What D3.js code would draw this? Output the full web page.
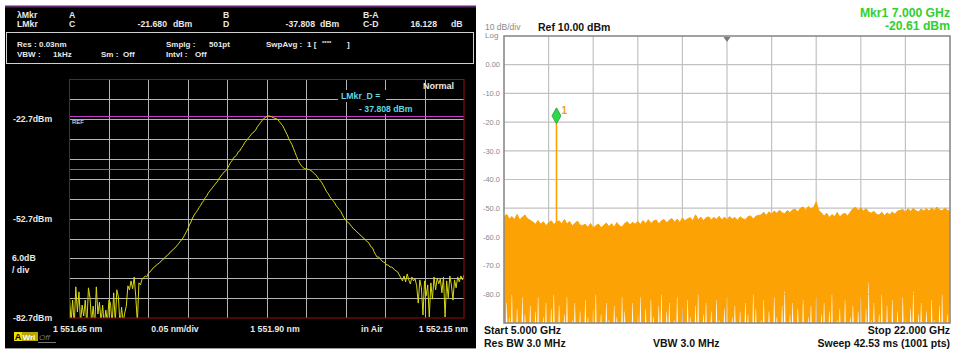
<!DOCTYPE html>
<html><head><meta charset="utf-8">
<script src="https://cdn.jsdelivr.net/npm/d3@7"></script>
<style>
body{margin:0;background:#fff}
svg{display:block}
text{font-family:"Liberation Sans",Arial,sans-serif}
</style></head>
<body><svg id="c" width="957" height="351"></svg>
<script>
// ---------- Left: optical spectrum analyzer ----------
const osaStartNm = 1551.65, osaStopNm = 1552.15, osaStepNm = 0.002;
const osaRefDbm = -10.7, osaBottomDbm = -82.7, osaDbPerDiv = 6;
const osaPower = [
-76.6,-84,-77.3,-85,-73.3,-80.9,-74.8,-84,-78.8,-82.1,
-77.3,-85,-73.6,-76.6,-84,-79.1,-85,-73.3,-81.5,-77.9,
-84,-78.8,-85,-80.3,-84,-77.3,-78.2,-85,-75.1,-84,
-74.2,-76.3,-85,-79.4,-84,-81.2,-79.1,-73.0,-74.2,-71.5,
-73.9,-70.3,-76.3,-84,-72.1,-72.7,-70.9,-70.6,-70.0,-70.3,
-69.1,-68.8,-68.2,-67.6,-67.3,-66.7,-66.4,-66.1,-65.5,-65.2,
-64.6,-64.3,-63.7,-63.4,-62.7,-62.4,-61.8,-61.5,-60.9,-60.3,
-59.7,-59.1,-58.5,-57.6,-56.7,-55.8,-54.6,-53.7,-52.5,-51.6,
-50.9,-50.3,-49.4,-48.8,-47.9,-47.3,-46.4,-45.8,-44.9,-44.3,
-43.7,-43.1,-42.5,-41.9,-41.3,-40.4,-39.8,-39.2,-38.6,-38.3,
-37.6,-36.7,-35.8,-35.2,-34.3,-34.0,-33.4,-32.5,-32.2,-31.3,
-30.7,-29.8,-29.2,-28.6,-28.0,-27.4,-26.8,-26.5,-25.9,-25.0,
-24.4,-23.7,-23.1,-22.5,-22.2,-21.9,-21.68,-21.8,-21.9,-22.2,
-22.4,-22.5,-22.8,-23.4,-24.0,-24.6,-25.5,-26.5,-27.4,-28.6,
-29.5,-30.4,-31.6,-32.8,-34.0,-35.2,-36.1,-36.7,-37.3,-37.6,
-37.7,-37.8,-37.9,-38.2,-38.5,-39.1,-39.4,-40.1,-40.7,-41.3,
-41.9,-42.8,-43.7,-44.6,-45.2,-46.1,-46.7,-47.3,-47.9,-48.8,
-49.4,-50.0,-50.6,-51.6,-52.5,-53.1,-53.7,-54.0,-54.6,-55.2,
-55.8,-56.1,-56.7,-57.0,-57.6,-57.9,-58.5,-58.8,-59.4,-59.7,
-60.3,-61.2,-61.5,-62.7,-63.6,-64.3,-64.3,-64.9,-65.5,-65.8,
-66.1,-66.7,-66.7,-67.3,-67.3,-67.6,-68.2,-68.5,-68.8,-69.7,
-70.6,-71.5,-70.0,-71.8,-69.4,-71.2,-72.4,-70.3,-71.5,-70.9,
-73.0,-78.2,-71.2,-73.6,-81.8,-71.5,-76.0,-72.7,-82.4,-72.1,
-77.0,-70.3,-74.2,-70.6,-72.4,-70.9,-75.1,-70.3,-82.4,-71.5,
-76.6,-70.0,-72.7,-77.3,-71.2,-73.6,-70.3,-71.8,-70.0,-71.2,
-69.7
];
const osaMarkerLevels = [-21.680, -37.808];
const osaYTickValues = [-22.7, -52.7, -82.7];
const osaYTickLabels = ["-22.7dBm", "-52.7dBm", "-82.7dBm"];
const osaXLabels = ["1 551.65 nm", "0.05 nm/div", "1 551.90 nm", "in Air", "1 552.15 nm"];

// ---------- Right: electrical spectrum analyzer ----------
const saStartGHz = 5, saStopGHz = 22, saBinGHz = 0.1;
const saRefDbm = 10, saBottomDbm = -90;
const saUpper = [
-53.2,-52.1,-53.8,-52.9,-53.9,-52.2,-54.1,-53.1,-52.4,-53.7,-54.2,
-54.8,-55.6,-54.3,-55.6,-54.7,-56.1,-55.1,-54.4,-55.7,-54.9,
-54.4,-55.5,-53.9,-55.5,-54.6,-56.2,-55.3,-54.5,-55.9,-56.0,
-55.6,-56.7,-55.3,-56.9,-56.1,-55.5,-56.8,-56.0,-55.2,-56.4,
-55.4,-56.6,-55.0,-56.1,-56.6,-55.3,-54.7,-55.9,-54.9,-55.6,
-54.6,-55.7,-54.3,-55.4,-54.0,-55.3,-54.5,-54.1,-55.5,-54.4,
-53.9,-55.1,-54.2,-53.6,-54.9,-53.8,-55.0,-53.4,-54.4,-53.7,
-53.3,-54.4,-52.3,-54.0,-53.1,-54.3,-53.4,-53.0,-54.1,-53.2,
-53.9,-52.8,-54.1,-53.1,-54.0,-52.9,-53.8,-53.2,-54.2,-53.0,
-53.7,-54.0,-52.9,-52.7,-53.8,-52.8,-52.5,-52.4,-51.4,-52.5,
-51.3,-52.1,-51.0,-51.8,-50.7,-51.6,-51.9,-50.8,-51.5,-50.6,
-50.4,-51.3,-50.0,-49.6,-50.7,-49.4,-50.3,-49.7,-47.8,-50.9,
-51.6,-52.8,-51.7,-53.2,-52.2,-53.0,-51.5,-53.1,-52.1,-51.8,
-52.7,-51.4,-50.2,-49.7,-50.8,-49.9,-51.0,-50.1,-51.4,-51.7,
-51.1,-52.1,-52.4,-51.4,-52.6,-51.6,-52.3,-51.3,-52.1,-51.0,
-50.8,-50.4,-51.5,-50.2,-51.1,-50.0,-50.9,-51.3,-50.3,-51.0,
-50.1,-51.1,-49.9,-50.8,-49.6,-50.6,-50.9,-50.0,-50.7,-51.1
];
const saLower = [
-92,-83,-88,-80,-92,-85,-92,-81,-87,-92,-84,
-92,-86,-81,-92,-88,-83,-92,-85,-80,-92,
-84,-92,-87,-81,-92,-89,-83,-92,-86,-92,
-82,-88,-92,-85,-80,-92,-87,-92,-83,-89,
-92,-84,-88,-92,-81,-86,-92,-90,-83,-92,
-87,-81,-92,-85,-92,-82,-88,-92,-84,-80,
-92,-86,-83,-92,-89,-81,-92,-85,-92,-82,
-88,-92,-84,-80,-92,-87,-83,-92,-86,-92,
-82,-89,-92,-85,-81,-92,-88,-84,-92,-86,
-92,-83,-87,-92,-80,-85,-92,-89,-82,-92,
-86,-92,-81,-88,-92,-84,-79,-92,-87,-83,
-92,-85,-90,-82,-92,-88,-84,-92,-81,-92,
-87,-83,-92,-86,-80,-92,-89,-85,-92,-82,
-92,-88,-84,-92,-86,-81,-92,-85,-76,-89,
-83,-92,-87,-80,-92,-84,-90,-82,-92,-86,
-92,-81,-88,-92,-85,-79,-92,-87,-83,-92,
-86,-92,-82,-89,-92,-84,-80,-92,-87,-83
];
const saMarkerFreqGHz = [7.0];
const saMarkerPowerDbm = [-20.61];
const saYTickValues = [0, -10, -20, -30, -40, -50, -60, -70, -80];
const saYTickLabels = ["0.00", "-10.0", "-20.0", "-30.0", "-40.0", "-50.0", "-60.0", "-70.0", "-80.0"];

const svg = d3.select("#c");
const defs = svg.append("defs");

// ================= LEFT PANEL =================
const L = svg.append("g");
L.append("rect").attr("x",5).attr("y",6).attr("width",471).attr("height",342).attr("fill","#000");
L.append("line").attr("x1",5).attr("x2",476).attr("y1",6.5).attr("y2",6.5).attr("stroke","#5e2a6c").attr("stroke-width",2);
L.append("line").attr("x1",5).attr("x2",476).attr("y1",348.5).attr("y2",348.5).attr("stroke","#9a9a9a").attr("stroke-width",1);
L.append("rect").attr("x",6.5).attr("y",32.5).attr("width",467).attr("height",31).attr("fill","none").attr("stroke","#cfcfcf");

function lt(x,y,s,opt={}){
  return L.append("text").attr("x",x).attr("y",y).text(s)
    .attr("font-size",opt.size||8.7).attr("font-weight",opt.weight||"bold")
    .attr("fill",opt.fill||"#e8e8e8").attr("text-anchor",opt.anchor||"start");
}
lt(17,18,"λMkr"); lt(69,18,"A"); lt(223,18,"B"); lt(363,18,"B-A");
lt(17,26.5,"LMkr"); lt(69,26.5,"C"); lt(167,26.5,"-21.680",{anchor:"end"}); lt(173,26.5,"dBm");
lt(223,26.5,"D"); lt(315,26.5,"-37.808",{anchor:"end"}); lt(320,26.5,"dBm");
lt(363,26.5,"C-D"); lt(437,26.5,"16.128",{anchor:"end"}); lt(451,26.5,"dB");
const hs = {size:8};
lt(17,46.5,"Res :",hs); lt(39,46.5,"0.03nm",hs); lt(166,46.5,"Smplg :",hs); lt(209,46.5,"501pt",hs);
lt(266,46.5,"SwpAvg :",hs); lt(307,46.5,"1  [",hs); lt(322,45,"****",{size:6}); lt(347,46.5,"]",hs);
lt(17,56.5,"VBW :",hs); lt(53,56.5,"1kHz",hs); lt(101,56.5,"Sm :",hs); lt(123,56.5,"Off",hs);
lt(166,56.5,"Intvl :",hs); lt(195,56.5,"Off",hs);

const xL = d3.scaleLinear().domain([osaStartNm, osaStopNm]).range([69.5, 464]);
const yL = d3.scaleLinear().domain([osaBottomDbm, osaRefDbm]).range([318, 79.5]);

const gridL = L.append("g").attr("stroke","#b4b4b4").attr("stroke-width",1);
d3.range(1,10).forEach(k=>{
  const x = Math.round(xL(osaStartNm + k*0.05))+0.5;
  gridL.append("line").attr("x1",x).attr("x2",x).attr("y1",yL(osaRefDbm)).attr("y2",yL(osaBottomDbm));
});
d3.range(1,12).forEach(k=>{
  const y = Math.round(yL(osaBottomDbm + k*osaDbPerDiv))+0.5;
  gridL.append("line").attr("x1",xL(osaStartNm)).attr("x2",xL(osaStopNm)).attr("y1",y).attr("y2",y);
});
osaMarkerLevels.forEach(v=>{
  const y = Math.round(yL(v))+0.5;
  L.append("line").attr("x1",xL(osaStartNm)).attr("x2",xL(osaStopNm)).attr("y1",y).attr("y2",y)
    .attr("stroke","#c43cc8").attr("stroke-width",1);
});
lt(72,124,"REF",{size:6,weight:"normal",fill:"#f0f0f0"});

L.append("rect").attr("x",338).attr("y",90).attr("width",48).attr("height",12).attr("fill","#000");
L.append("rect").attr("x",356).attr("y",102).attr("width",62).attr("height",12).attr("fill","#000");
lt(341,99,"LMkr_D =",{fill:"#5fd8e0"});
lt(359,112,"- "+Math.abs(osaMarkerLevels[1]).toFixed(3)+" dBm",{fill:"#5fd8e0"});
lt(454,89,"Normal",{anchor:"end",size:9});

defs.append("clipPath").attr("id","clipL").append("rect")
  .attr("x",69.5).attr("y",79.5).attr("width",394.5).attr("height",238.5);
const lineL = d3.line().x((d,i)=>xL(osaStartNm + i*osaStepNm)).y(d=>yL(d));
L.append("path").datum(osaPower).attr("d",lineL).attr("fill","none")
  .attr("stroke","#d8d812").attr("stroke-width",1).attr("clip-path","url(#clipL)");

L.append("rect").attr("x",69.5).attr("y",79.5).attr("width",394.5).attr("height",238.5)
  .attr("fill","none").attr("stroke","#a00c0c").attr("stroke-width",1);

osaYTickValues.forEach((v,i)=>{ lt(13, yL(v)+3, osaYTickLabels[i]); });
lt(12,261,"6.0dB"); lt(12,273,"/ div");
lt(53,332,osaXLabels[0]); lt(175,332,osaXLabels[1],{anchor:"middle"});
lt(275,332,osaXLabels[2],{anchor:"middle"}); lt(372,332,osaXLabels[3],{anchor:"middle"});
lt(468,332,osaXLabels[4],{anchor:"end"});
L.append("rect").attr("x",14).attr("y",332).attr("width",8).attr("height",9).attr("fill","#f0e000");
L.append("rect").attr("x",22).attr("y",332).attr("width",16).attr("height",9).attr("fill","#b8a800");
lt(14.8,340,"A",{fill:"#000",size:9});
lt(22.5,340,"Wri",{fill:"#fff",size:8});
lt(39,340,"Off",{fill:"#777",size:8,weight:"normal"}).attr("font-style","italic");
L.append("line").attr("x1",38).attr("x2",56).attr("y1",342.5).attr("y2",342.5).attr("stroke","#777");

// ================= RIGHT PANEL =================
const R = svg.append("g");
const xR = d3.scaleLinear().domain([saStartGHz, saStopGHz]).range([504, 950]);
const yR = d3.scaleLinear().domain([saBottomDbm, saRefDbm]).range([323, 36]);

const gridR = R.append("g").attr("stroke","#c2c2c2").attr("stroke-width",1.2);
d3.range(1,10).forEach(k=>{
  const x = xR(saStartGHz + k*(saStopGHz-saStartGHz)/10);
  gridR.append("line").attr("x1",x).attr("x2",x).attr("y1",yR(saRefDbm)).attr("y2",yR(saBottomDbm));
});
saYTickValues.forEach(v=>{
  gridR.append("line").attr("x1",xR(saStartGHz)).attr("x2",xR(saStopGHz)).attr("y1",yR(v)).attr("y2",yR(v));
});

defs.append("clipPath").attr("id","clipR").append("rect")
  .attr("x",504).attr("y",36).attr("width",446).attr("height",287);
const binW = xR(saStartGHz+saBinGHz)-xR(saStartGHz);
const ORANGE = "#fca204";
const yFloor = yR(saBottomDbm)+6;
const poly = [];
saUpper.forEach((u,i)=>{ poly.push([xR(saStartGHz+i*saBinGHz), yR(u)]); });
for (let i = saLower.length-1; i >= 0; i--) {
  const x = xR(saStartGHz+i*saBinGHz);
  const yl = yR(Math.max(saLower[i], saBottomDbm-3));
  poly.push([x+binW*0.32, yFloor]);
  poly.push([x+0.2, yl]);
  poly.push([x-0.2, yl]);
  poly.push([x-binW*0.32, yFloor]);
}
R.append("path").attr("d",d3.line()(poly)+"Z").attr("fill",ORANGE).attr("clip-path","url(#clipR)");
R.append("path").attr("d",d3.line().x((d,i)=>xR(saStartGHz+i*saBinGHz)).y(d=>yR(d))(saUpper))
  .attr("fill","none").attr("stroke",ORANGE).attr("stroke-width",1).attr("clip-path","url(#clipR)");

saMarkerFreqGHz.forEach((f,i)=>{
  const bin = Math.round((f-saStartGHz)/saBinGHz);
  R.append("line").attr("x1",xR(f)).attr("x2",xR(f)).attr("y1",yR(saMarkerPowerDbm[i])).attr("y2",yR(saUpper[bin])+2)
    .attr("stroke",ORANGE).attr("stroke-width",1.6);
});

R.append("rect").attr("x",504).attr("y",36).attr("width",446).attr("height",287)
  .attr("fill","none").attr("stroke","#8a8a8a").attr("stroke-width",1.6);

R.append("path").attr("d",d3.line()([[xR(13.5)-3.5,37],[xR(13.5)+3.5,37],[xR(13.5),42]])+"Z").attr("fill","#7a7a7a");

saMarkerFreqGHz.forEach((f,i)=>{
  const x=xR(f), y=yR(saMarkerPowerDbm[i]);
  R.append("path").attr("d",`M${x},${y-16}L${x+4.5},${y-8}L${x},${y}L${x-4.5},${y-8}Z`)
    .attr("fill","#2fd84a").attr("stroke","#1c9c30").attr("stroke-width",0.8);
  R.append("text").attr("x",x+5).attr("y",y-10).text(String(i+1)).attr("font-size",10)
    .attr("font-weight","bold").attr("fill","#f0a020");
});

function rt(x,y,s,opt={}){
  return R.append("text").attr("x",x).attr("y",y).text(s)
    .attr("font-size",opt.size||10.5).attr("font-weight",opt.weight||"bold")
    .attr("fill",opt.fill||"#111").attr("text-anchor",opt.anchor||"start");
}
saYTickValues.forEach((v,i)=>{ rt(500, yR(v)+2.7, saYTickLabels[i], {size:7.5,weight:"normal",fill:"#8a8a8a",anchor:"end"}); });
rt(485,29.5,"10 dB/div",{size:8.5,weight:"normal",fill:"#8a8a8a"});
rt(485,38,"Log",{size:8,weight:"normal",fill:"#8a8a8a"});
rt(538,31,"Ref "+saRefDbm.toFixed(2)+" dBm",{size:10.5});
rt(950,16.5,"Mkr1 "+saMarkerFreqGHz[0].toFixed(3)+" GHz",{size:12.2,fill:"#30d030",anchor:"end"});
rt(950,29.5,saMarkerPowerDbm[0].toFixed(2)+" dBm",{size:12.2,fill:"#30d030",anchor:"end"});
rt(484,334,"Start "+saStartGHz.toFixed(3)+" GHz");
rt(484,346.5,"Res BW 3.0 MHz");
rt(653,346.5,"VBW 3.0 MHz");
rt(950,334,"Stop "+saStopGHz.toFixed(3)+" GHz",{anchor:"end"});
rt(950,346.5,"Sweep  42.53 ms (1001 pts)",{anchor:"end"});
</script>
</body></html>
